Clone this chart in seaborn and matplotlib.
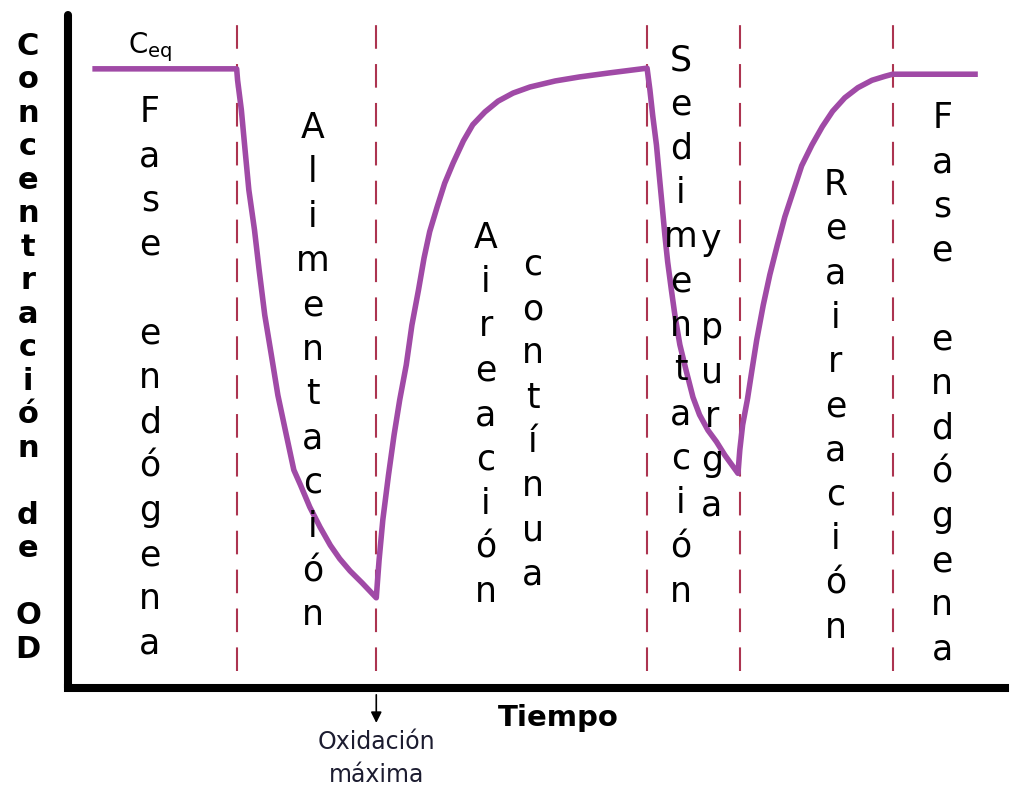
import matplotlib
matplotlib.use("Agg")
import matplotlib.pyplot as plt
import seaborn as sns
import pandas as pd

# --- dissolved-oxygen profile over one SBR cycle (arbitrary units) ---
tiempo = [2.6, 18.0, 18.1, 18.5, 18.9, 19.3, 19.9, 20.4, 21.0, 21.7, 22.4, 23.3, 24.1, 24.8,
          25.8, 26.9, 28.0, 29.0, 30.1, 31.4, 32.9,
          33.2, 33.6, 34.2, 34.8, 35.4, 36.1, 36.7, 37.4, 38.0, 38.6, 39.4, 40.2, 41.1,
          42.2, 43.2, 44.5, 45.9, 47.5, 49.3, 52.0, 54.6, 57.8, 61.8,
          62.1, 62.4, 62.8, 63.1, 63.4, 63.7, 64.0, 64.4, 64.8, 65.3, 66.0, 66.7, 67.4,
          68.3, 69.2, 70.1, 71.5,
          71.7, 72.0, 72.5, 73.0, 73.5, 74.2, 74.9, 75.7, 76.5, 77.4, 78.3, 79.4, 80.5,
          81.6, 82.9, 84.3, 85.8, 87.2, 88.0, 97.1]
concentracion = [92.0, 92.0, 90.3, 85.9, 79.9, 74.0, 68.1, 62.1, 55.4, 49.5, 43.5, 37.6, 32.4, 30.2,
                 26.9, 23.9, 21.2, 19.2, 17.4, 15.6, 13.4,
                 19.0, 25.0, 31.6, 37.6, 42.8, 48.0, 53.9, 59.1, 63.9, 67.8, 71.5, 75.0, 78.0,
                 81.3, 83.7, 85.6, 87.2, 88.4, 89.3, 90.2, 90.8, 91.4, 92.1,
                 88.9, 85.1, 80.7, 76.2, 71.8, 67.3, 63.3, 59.1, 55.1, 51.0, 47.0, 43.2, 40.6,
                 38.3, 36.6, 34.6, 31.9,
                 35.4, 39.1, 42.8, 47.3, 51.7, 56.9, 61.4, 65.8, 70.0, 73.8, 77.6, 80.7, 83.4,
                 85.7, 87.7, 89.2, 90.3, 90.9, 91.2, 91.2]

# phase boundaries (time)
limites_fase = [18.0, 32.9, 61.8, 71.7, 88.0]
t_oxidacion_max = 32.9

# phase labels: (text, x position, baseline of first letter)
fases = ["Fase endógena", "Alimentación", "Aireación", "contínua",
         "Sedimentación", "y purga", "Reaireación", "Fase endógena"]
fases_x = [8.75, 26.1, 44.6, 49.6, 65.4, 68.7, 81.9, 93.3]
fases_y = [84.1, 81.7, 65.4, 61.4, 91.8, 65.1, 73.3, 83.2]

eje_y = "Concentración de OD"
eje_x = "Tiempo"
nota = "Oxidación\nmáxima"
c_eq = r"C$_\mathregular{eq}$"

sns.set_theme(style="white")
plt.rcParams["font.family"] = ["DejaVu Sans"]

W, H = 1010, 786
fig = plt.figure(figsize=(W / 100, H / 100), dpi=100)
ax = fig.add_axes([68 / W, (H - 688) / H, 937 / W, 673 / H])
ax.set_xlim(0, 100)
ax.set_ylim(0, 100)
ax.set_xticks([])
ax.set_yticks([])
for s in ["top", "right"]:
    ax.spines[s].set_visible(False)
for s in ["left", "bottom"]:
    ax.spines[s].set_color("black")
    ax.spines[s].set_linewidth(5.8)
    ax.spines[s].set_zorder(5)
ax.spines["left"].set_capstyle("round")

# phase boundaries
lw_d = 1.5
for x in limites_fase:
    ax.axvline(x, ymin=0.025, ymax=1.006, color="#ac3450", lw=lw_d,
               linestyle=(0, (17.0 / lw_d, 11.0 / lw_d)), zorder=1, clip_on=False)

df = pd.DataFrame({"Tiempo": tiempo, "OD": concentracion})
sns.lineplot(data=df, x="Tiempo", y="OD", ax=ax, color="#a04aa6", lw=4.0,
             sort=False, estimator=None, zorder=3)
for ln in ax.get_lines()[-1:]:
    ln.set_solid_joinstyle("round")
    ln.set_solid_capstyle("butt")
ax.set_xlabel("")
ax.set_ylabel("")

# vertical phase labels, one letter per line
paso = 44.3 / 6.73
for texto, x0, y0 in zip(fases, fases_x, fases_y):
    for i, ch in enumerate(texto):
        if ch != " ":
            ax.text(x0, y0 - i * paso, ch, ha="center", va="baseline",
                    fontsize=25, color="black", zorder=4, clip_on=False)

# vertical y-axis title
paso_y = 33.5 / 6.73
for i, ch in enumerate(eje_y):
    if ch != " ":
        ax.text(-4.27, 94.1 - i * paso_y, ch, ha="center", va="baseline",
                fontsize=22, fontweight="bold", color="black", clip_on=False)

ax.text(52.3, -4.5, eje_x, ha="center", va="center", fontsize=21,
        fontweight="bold", color="black", clip_on=False)

ax.text(6.4, 94.3, c_eq, ha="left", va="baseline", fontsize=20, color="black")

ax.annotate("", xy=(t_oxidacion_max, -5.6), xytext=(t_oxidacion_max, -0.6),
            arrowprops=dict(arrowstyle="-|>", color="black", lw=1.2,
                            mutation_scale=16), annotation_clip=False)
ax.text(t_oxidacion_max, -6.3, nota, ha="center", va="top", fontsize=17,
        color="#1c1c30", linespacing=1.45, clip_on=False)

fig.savefig("out.png", dpi=100)
